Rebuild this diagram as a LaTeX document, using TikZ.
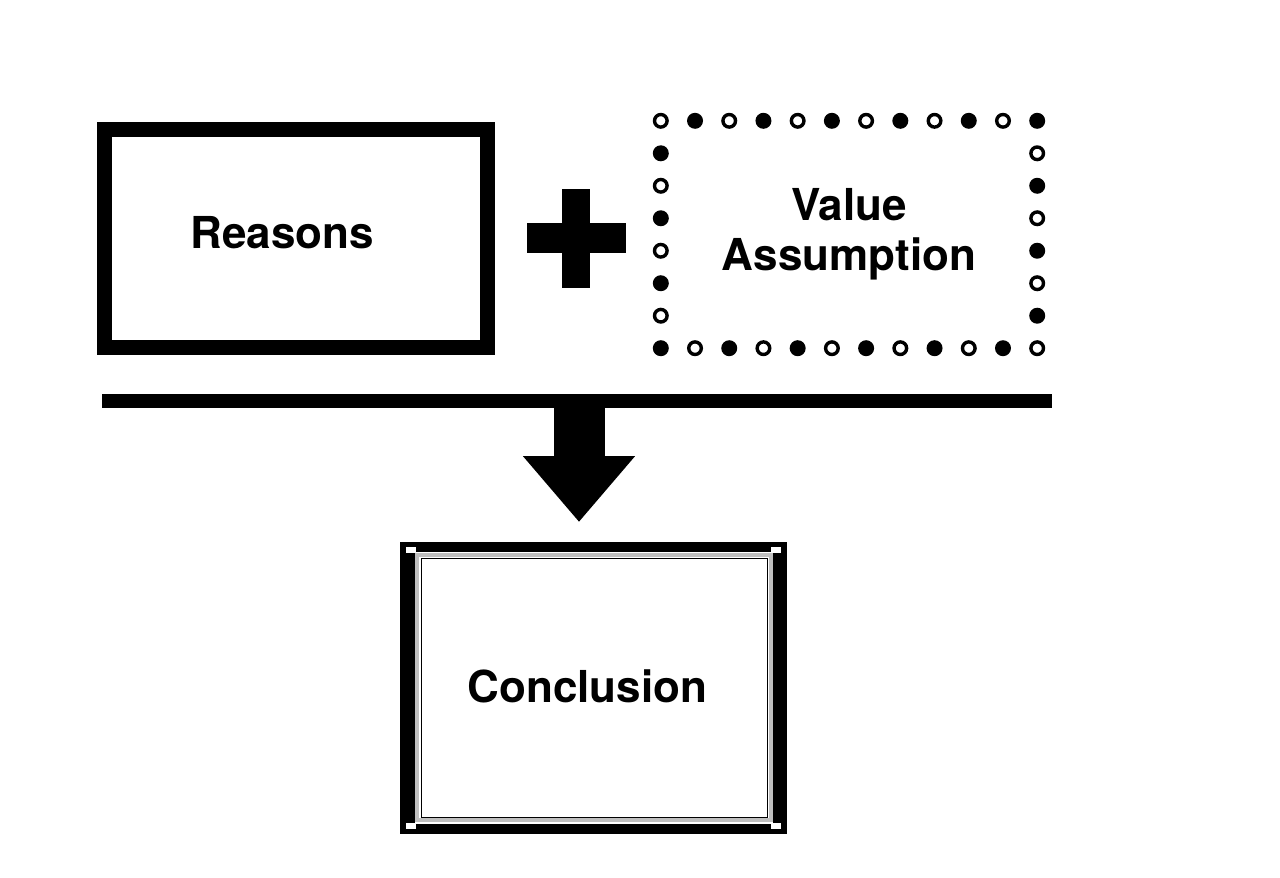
\documentclass[tikz,border=0pt]{standalone}
\usepackage{fontspec}
\setmainfont{TeX Gyre Heros}
\usetikzlibrary{calc,arrows.meta}
\tikzset{
  bigtext/.style={font=\fontsize{44}{50}\selectfont\bfseries, align=center},
  box/.style={rectangle, inner sep=0pt, bigtext},
  fulldot/.style={fill=black},
  opendot/.style={draw=black, fill=white, line width=3.4pt},
}
\begin{document}
\begin{tikzpicture}[x=1pt,y=-1pt]
  \useasboundingbox[fill=white] (0,0) rectangle (1280,878);
  % the two premises
  \node[box, draw, line width=15pt, minimum width=383pt, minimum height=218pt,
        label={[name=reasonstext, bigtext, xshift=-14pt, yshift=6pt]center:Reasons}]
        (reasons) at (296,238.5) {};
  \node[box, minimum width=376pt, minimum height=227pt] (value) at (849,234.5) {Value\\Assumption};
  % dotted frame round the assumption
  \foreach \i in {0,...,11} {
    \ifodd\i \def\s{fulldot}\def\r{8pt}\else \def\s{opendot}\def\r{6.3pt}\fi
    \path[\s] ($(value.north west)!\i/11!(value.north east)$) circle (\r);
    \path[\s] ($(value.south east)!\i/11!(value.south west)$) circle (\r);
  }
  \foreach \j in {1,...,6} {
    \ifodd\j \def\s{opendot}\def\r{6.3pt}\else \def\s{fulldot}\def\r{8pt}\fi
    \path[\s] ($(value.north east)!\j/7!(value.south east)$) circle (\r);
    \path[\s] ($(value.south west)!\j/7!(value.north west)$) circle (\r);
  }
  % plus sign
  \fill (527,223) rectangle (626,253);
  \fill (562,189) rectangle (590,288);
  % bar and arrow
  \coordinate (barleft) at (102,401);
  \coordinate (barright) at (1052,401);
  \coordinate (barmid) at (579,401);
  \draw[line width=14pt] (barleft) -- (barright);
  \node[box, draw, line width=10pt, minimum width=377pt, minimum height=282pt,
        label={[name=conclusiontext, bigtext, xshift=-6pt, yshift=2pt]center:Conclusion}]
        (conclusion) at (593.5,688) {};
  \draw[line width=51pt, -{Triangle[width=108pt,length=66pt]}]
        (barmid) -- ($(conclusion.north)+(-14.5,-20)$);
  % inner frame of the conclusion
  \fill ($(conclusion.north west)+(0,0)$) rectangle ($(conclusion.south west)+(15,0)$);
  \fill ($(conclusion.north east)+(-14,0)$) rectangle ($(conclusion.south east)$);
  \draw[black!25, line width=4pt] ($(conclusion.north west)+(17,13)$) rectangle ($(conclusion.south east)+(-16,-14)$);
  \draw[line width=0.8pt] ($(conclusion.north west)+(21,16)$) rectangle ($(conclusion.south east)+(-20,-17)$);
  \foreach \c/\dx/\dy in {north west/11/8,north east/-11/8,south west/11/-8,south east/-11/-8}
    \fill[white] ($(conclusion.\c)+(\dx,\dy)+(-5,-3)$) rectangle +(10,6);
\end{tikzpicture}
\end{document}
